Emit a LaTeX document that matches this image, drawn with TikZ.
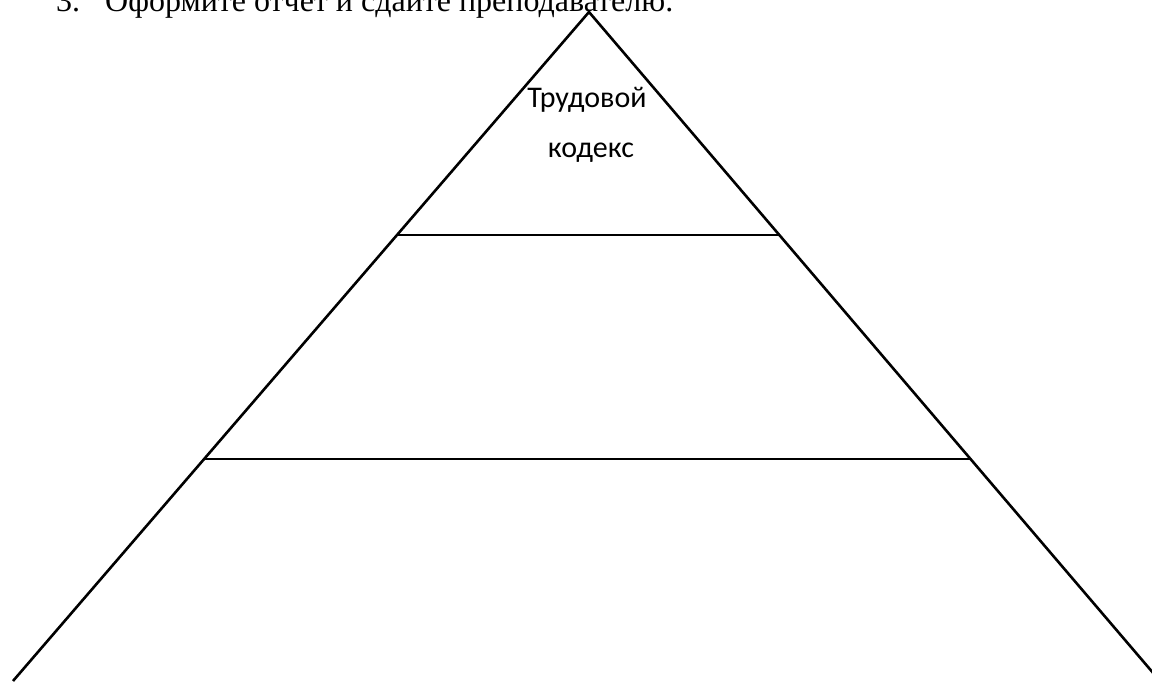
\documentclass[tikz,border=0pt]{standalone}
\usepackage{fontspec}
\setmainfont{Liberation Serif}
\newfontfamily\calibrifont{Carlito}
\usetikzlibrary{calc}
\begin{document}
\begin{tikzpicture}[x=1pt,y=-1pt,
  edge/.style={draw=black,line width=2.6pt,line join=miter},
  toptext/.style={inner sep=0pt,anchor=base west,font=\fontsize{32}{38}\selectfont},
  label/.style={inner sep=0pt,anchor=base,font=\calibrifont\fontsize{30}{36}\selectfont}]
\useasboundingbox (0,0) rectangle (1152,681);
\clip (0,0) rectangle (1152,681);
\fill[white] (0,0) rectangle (1152,681);
% heading (cut at top)
\node[toptext] (num) at (56,11) {3.};
\node[toptext] (head) at (105,11) {Оформите отчет и сдайте преподавателю.};
% pyramid
\coordinate (A) at (589,12);
\coordinate (BL) at (13,681);
\coordinate (BR) at (1160,681);
\coordinate (L1) at ($(A)!0.3333!(BL)$);
\coordinate (R1) at ($(A)!0.3333!(BR)$);
\coordinate (L2) at ($(A)!0.6682!(BL)$);
\coordinate (R2) at ($(A)!0.6682!(BR)$);
\draw[edge] (BL) -- (A) -- (BR);
\draw[edge] (L1) -- (R1);
\draw[edge] (L2) -- (R2);
\node[label] (t1) at (587,107) {Трудовой};
\node[label] (t2) at (591,157) {кодекс};
\end{tikzpicture}
\end{document}
